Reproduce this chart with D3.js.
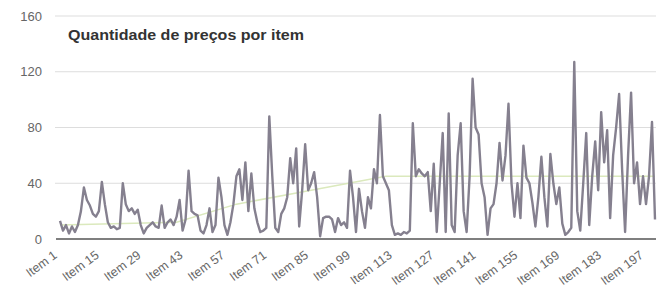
<!DOCTYPE html>
<html>
<head>
  <meta charset="utf-8">
  <title>Quantidade de preços por item</title>
  <script src="https://cdn.jsdelivr.net/npm/d3@7/dist/d3.min.js"></script>
  <style>
    body { margin: 0; background: #fff; }
    svg { display: block; }
    .y-label { font-family: "Liberation Sans", Arial, sans-serif; font-size: 13px; fill: #666; }
    .x-label { font-family: "Liberation Sans", Arial, sans-serif; font-size: 12.5px; fill: #666; }
    .title { font-family: "Liberation Sans", Arial, sans-serif; font-size: 14px; font-weight: bold; fill: #333; }
  </style>
</head>
<body>
<div id="chart"></div>
<script>
  // values, item 1 .. item 200
  const counts = [
    13, 6, 10, 4, 9, 5, 10, 20, 37, 28,
    24, 18, 16, 20, 41, 25, 12, 8, 9, 7,
    8, 40, 25, 20, 22, 18, 21, 10, 4, 8,
    10, 12, 9, 8, 24, 8, 12, 14, 10, 16,
    28, 6, 14, 49, 20, 18, 17, 6, 4, 10,
    22, 5, 10, 44, 30, 10, 3, 12, 25, 45,
    50, 28, 55, 20, 47, 22, 12, 5, 6, 8,
    88, 45, 8, 5, 18, 22, 30, 58, 40, 65,
    9, 35, 68, 35, 40, 48, 30, 2, 15, 16,
    16, 14, 5, 15, 10, 12, 8, 49, 30, 5,
    36, 20, 8, 30, 22, 50, 40, 89, 45, 40,
    35, 10, 3, 4, 3, 5, 4, 6, 83, 45,
    50, 47, 45, 48, 20, 54, 5, 40, 76, 5,
    90, 10, 5, 60, 83, 20, 5, 45, 115, 80,
    75, 40, 30, 3, 22, 25, 40, 69, 42, 60,
    97, 40, 16, 40, 15, 67, 44, 40, 26, 9,
    30, 59, 30, 9, 61, 40, 25, 37, 11, 3,
    5, 8, 127, 20, 6, 40, 76, 10, 45, 70,
    35, 91, 55, 78, 15, 60, 80, 104, 50, 5,
    60, 105, 40, 55, 25, 45, 25, 45, 84, 14
  ];
  const items = counts.map((d, i) => "Item " + (i + 1));
  const tickItems = ["Item 1", "Item 15", "Item 29", "Item 43", "Item 57", "Item 71", "Item 85",
    "Item 99", "Item 113", "Item 127", "Item 141", "Item 155", "Item 169", "Item 183", "Item 197"];
  const yTicks = [0, 40, 80, 120, 160];

  // faint green trend seen behind the line (sparse points)
  const trendItems = ["Item 1", "Item 40", "Item 60", "Item 85", "Item 110", "Item 200"];
  const trendValues = [10, 12, 25, 35, 45, 45];

  const W = 669, H = 293;
  const x = d3.scalePoint().domain(items).range([60, 655]);
  const y = d3.scaleLinear().domain([0, 160]).range([239, 16]);

  const svg = d3.select("#chart").append("svg")
    .attr("width", W)
    .attr("height", H);

  // grid lines
  svg.append("g")
    .selectAll("line")
    .data(yTicks.filter(d => d > 0))
    .join("line")
    .attr("x1", 55).attr("x2", 656)
    .attr("y1", d => y(d)).attr("y2", d => y(d))
    .attr("stroke", "#ddd")
    .attr("stroke-width", 1);

  // y labels
  svg.append("g")
    .selectAll("text")
    .data(yTicks)
    .join("text")
    .attr("class", "y-label")
    .attr("x", 42)
    .attr("y", d => y(d))
    .attr("dy", "0.35em")
    .attr("text-anchor", "end")
    .text(d => d);

  // trend line
  svg.append("path")
    .datum(trendItems.map((d, i) => [d, trendValues[i]]))
    .attr("fill", "none")
    .attr("stroke", "#dbe9bd")
    .attr("stroke-width", 1.5)
    .attr("d", d3.line().x(d => x(d[0])).y(d => y(d[1])));

  // main line
  svg.append("path")
    .datum(counts)
    .attr("fill", "none")
    .attr("stroke", "#85808f")
    .attr("stroke-width", 2.4)
    .attr("stroke-linejoin", "round")
    .attr("d", d3.line().x((d, i) => x(items[i])).y(d => y(d)));

  // x axis line
  svg.append("line")
    .attr("x1", 56).attr("x2", 656)
    .attr("y1", y(0)).attr("y2", y(0))
    .attr("stroke", "#555")
    .attr("stroke-width", 1.5);

  // x labels, rotated
  svg.append("g")
    .selectAll("text")
    .data(tickItems)
    .join("text")
    .attr("class", "x-label")
    .attr("text-anchor", "end")
    .attr("transform", d => `translate(${x(d) - 2},${y(0) + 18}) rotate(-36)`)
    .text(d => d);

  // title
  svg.append("text")
    .attr("class", "title")
    .attr("x", 68)
    .attr("y", 40)
    .attr("textLength", 236)
    .attr("lengthAdjust", "spacingAndGlyphs")
    .text("Quantidade de preços por item");
</script>
</body>
</html>
